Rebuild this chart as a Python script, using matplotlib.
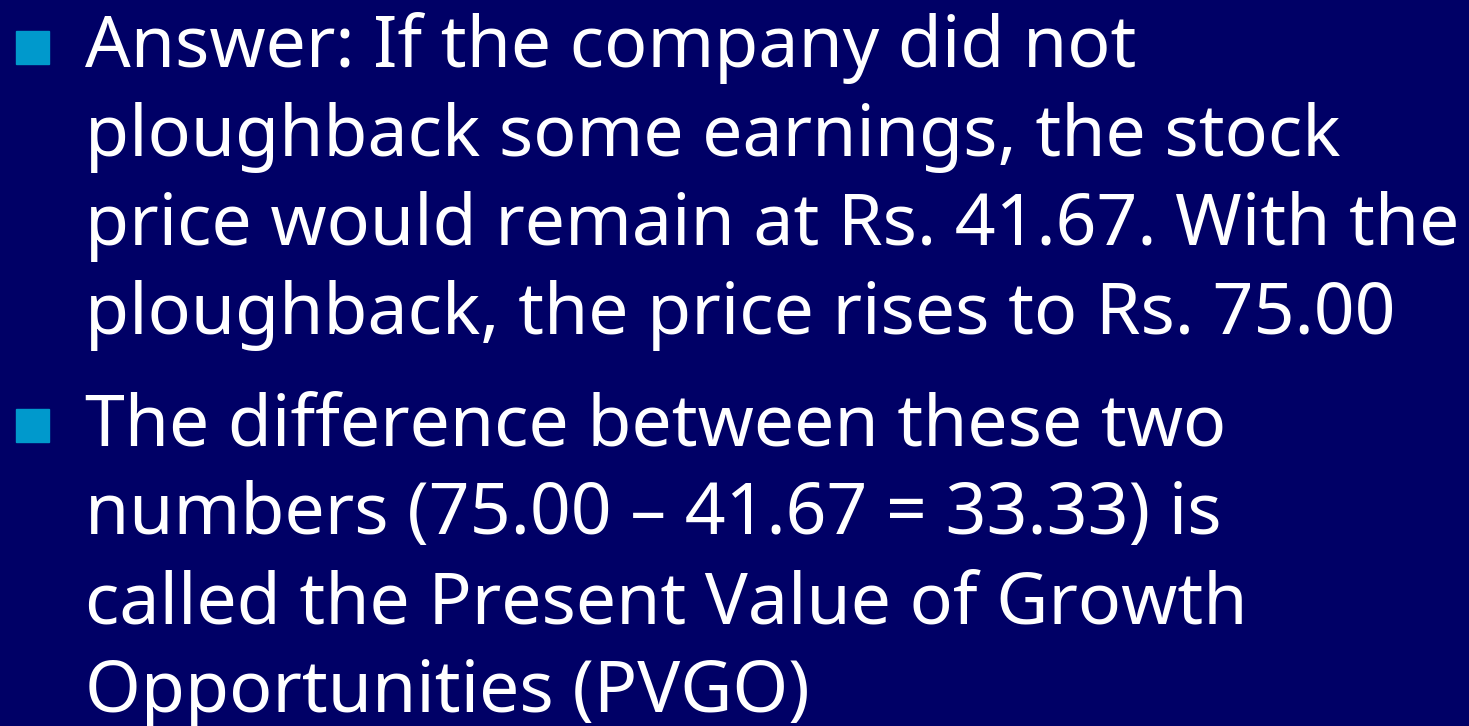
import matplotlib
matplotlib.use("Agg")
import matplotlib.pyplot as plt
from matplotlib.patches import Rectangle

# slide content: one list of wrapped lines per bullet
bullet_1 = [
    "Answer: If the company did not",
    "ploughback some earnings, the stock",
    "price would remain at Rs. 41.67. With the",
    "ploughback, the price rises to Rs. 75.00",
]
bullet_2 = [
    "The difference between these two",
    "numbers (75.00 \u2013 41.67 = 33.33) is",
    "called the Present Value of Growth",
    "Opportunities (PVGO)",
]
bullets = [bullet_1, bullet_2]

W, H = 1469, 726
BG = "#000066"
BULLET = "#0099cc"
FONT = "Noto Sans"

fig = plt.figure(figsize=(W / 100, H / 100), dpi=100, facecolor=BG)
renderer = fig.canvas.get_renderer()

first_baselines = [67, 445]   # px from top
line_step = 89
text_x = 85

# pick a size so the widest line spans about as far as on the slide
probe = fig.text(0, 0, bullet_1[2], fontsize=50, family=FONT)
w50 = probe.get_window_extent(renderer).width
probe.remove()
size = 50 * 1375 / w50

for lines, base in zip(bullets, first_baselines):
    # square bullet marker
    top = base - 36
    fig.patches.append(Rectangle((16 / W, 1 - (top + 33) / H), 33 / W, 33 / H,
                                 transform=fig.transFigure, color=BULLET))
    for i, line in enumerate(lines):
        y = base + i * line_step
        fig.text(text_x / W, 1 - y / H, line, color="white", fontsize=size,
                 family=FONT, va="baseline", ha="left")

fig.savefig("out.png", dpi=100, facecolor=BG)
